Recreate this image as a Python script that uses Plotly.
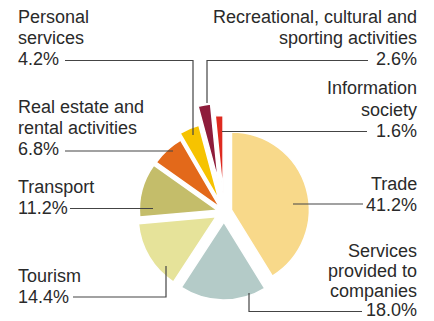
import plotly.graph_objects as go

# ---------------- data ----------------
categories = ["Trade", "Services provided to companies", "Tourism", "Transport",
              "Real estate and rental activities", "Personal services",
              "Recreational, cultural and sporting activities", "Information society"]
values = [41.2, 18.0, 14.4, 11.2, 6.8, 4.2, 2.6, 1.6]
label_lines = [["Trade"], ["Services", "provided to", "companies"], ["Tourism"], ["Transport"],
               ["Real estate and", "rental activities"], ["Personal", "services"],
               ["Recreational, cultural and", "sporting activities"], ["Information", "society"]]
pct_labels = [f"{v:.1f}%" for v in values]

# ---------------- style / layout ----------------
W, H = 434, 321
colors = ["#F8D98A", "#B4CBC8", "#E6E39A", "#C4BD6A", "#E3691A", "#F6C300", "#8E1C3B", "#DE2A1F"]
pulls = [0.10, 0.13, 0.12, 0.09, 0.08, 0.16, 0.40, 0.24]
cx, cy = 224, 212          # pie centre (px)
box = 2 * (H - cy)         # square pie box side (px)

# label anchor: (x px, first line centre y px, side, line step px)
label_pos = [(418, 183.5, "right", 21.0), (418, 251.0, "right", 19.8), (17, 276, "left", 21.0),
             (17, 186.5, "left", 21.0), (17, 106.5, "left", 21.0), (17, 17, "left", 21.0),
             (418, 17, "right", 21.0), (418, 88.5, "right", 21.0)]
# leader polylines (px)
leaders = [[(363, 204), (293, 204)],
           [(362, 311.5), (249, 311.5), (249, 293)],
           [(73, 297), (166, 297), (166, 266)],
           [(70, 208.5), (153, 208.5)],
           [(65, 151), (173, 151)],
           [(65, 60.5), (193, 60.5), (193, 135)],
           [(368, 60.5), (207, 60.5), (207, 103)],
           [(367, 131.5), (222, 131.5)]]

FONT = "Liberation Sans, Arial, sans-serif"
TEXT_COL = "#2a2a2a"
LINE_COL = "#444444"

def px(x):
    return x / W

def py(y):
    return 1 - y / H

fig = go.Figure(go.Pie(
    labels=categories, values=values, sort=False, direction="clockwise", rotation=0,
    pull=pulls, textinfo="none", hoverinfo="label+percent",
    marker=dict(colors=colors, line=dict(color="white", width=1.5)),
    domain=dict(x=[px(cx - box / 2), px(cx + box / 2)], y=[0, py(cy - box / 2)]),
    showlegend=False,
))

annotations = []
for lines, pct, (x, y0, side, step) in zip(label_lines, pct_labels, label_pos):
    for i, t in enumerate(lines + [pct]):
        annotations.append(dict(
            x=px(x), y=py(y0 + i * step), xref="paper", yref="paper",
            text=t, showarrow=False, xanchor=side, yanchor="middle",
            font=dict(family=FONT, size=18, color=TEXT_COL), borderpad=0,
        ))

shapes = []
for pts in leaders:
    path = "M " + " L ".join(f"{px(x):.5f},{py(y):.5f}" for x, y in pts)
    shapes.append(dict(type="path", path=path, xref="paper", yref="paper",
                       line=dict(color=LINE_COL, width=1.2)))

fig.update_layout(
    width=W, height=H, margin=dict(l=0, r=0, t=0, b=0),
    paper_bgcolor="white", plot_bgcolor="white",
    annotations=annotations, shapes=shapes,
)

fig.write_html("out.html", config={"displayModeBar": False},
               post_script="document.body.style.margin='0';document.body.style.overflow='hidden';")
